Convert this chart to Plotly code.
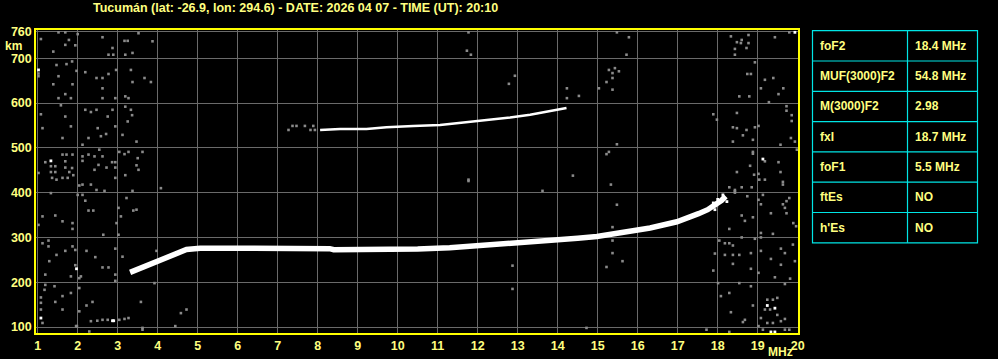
import plotly.graph_objects as go

# ---------------- data ----------------
title_text = "Tucumán (lat: -26.9, lon: 294.6) - DATE: 2026 04 07 - TIME (UT): 20:10"

# F-layer trace (ordinary), MHz / km
f_trace_mhz = [3.31, 3.56, 3.81, 4.06, 4.31, 4.56, 4.72, 5.06, 6.0, 7.0, 8.3, 8.4, 9.5, 10.06,
               10.5, 11.3, 12.0, 12.56, 13.2, 13.81, 14.5, 14.98, 15.64, 16.31, 16.98, 17.3,
               17.52, 17.75, 17.95, 18.1, 18.2]
f_trace_km = [222, 231, 242, 251, 261, 268, 273, 276, 276, 275.5, 275, 272.5, 272, 272,
              274, 277, 281, 284, 288, 293.5, 298, 302, 311, 321, 335, 344,
              353, 362, 372, 383, 392]

# second hop trace
hop2_mhz = [8.06, 8.56, 9.22, 9.72, 10.39, 11.06, 11.47, 12.06, 12.81, 13.31, 13.72, 14.06, 14.22]
hop2_km = [540, 542, 542, 546, 549, 551, 555, 560, 568, 574, 580, 586, 589]

# gray noise echoes
noise_mhz = [1.52, 1.69, 2.0, 1.08, 1.78, 1.39, 1.69, 1.94, 2.62, 2.87, 2.89, 2.77, 3.17, 3.25, 3.52, 3.87, 3.37, 3.19,
             1.02, 1.02, 1.47, 1.52, 1.72, 1.86, 1.97, 1.87, 1.39, 2.19, 2.47, 2.62, 2.77, 2.62, 2.96, 3.33, 3.37, 3.67, 3.83,
             1.52, 1.69, 1.83, 2.62, 2.94, 3.19, 3.27, 1.58, 1.08, 1.69, 1.12, 1.83, 1.62, 2.19, 2.33, 2.47, 2.75, 2.87, 2.94,
             2.58, 2.50, 2.71, 2.27, 3.12, 3.19, 3.33, 3.25, 3.36, 3.47, 2.12,
             1.02, 1.19, 1.33, 1.44, 1.33, 1.44, 1.36, 1.47, 1.62, 1.72, 1.69, 1.69, 1.79, 1.86, 1.87, 1.62, 1.75, 1.89, 2.12,
             2.12, 2.27, 2.42, 2.54, 2.52, 2.62, 2.42, 2.72, 2.86, 2.94, 2.94, 2.94, 2.04, 2.12, 2.33, 2.47, 2.67, 3.04, 3.17,
             3.27, 3.50, 3.62, 3.47, 3.52, 3.19, 3.37, 4.08,
             1.33, 2.12, 2.19, 2.27, 2.39, 2.0, 3.02, 3.08, 3.22, 3.39, 3.47, 1.12, 1.02, 1.44, 1.62, 1.87, 1.87, 2.97, 2.64, 3.02,
             1.12, 1.27, 1.27, 1.47, 1.29, 1.69, 1.87, 1.94, 1.94, 2.04, 2.08, 2.22, 2.44, 2.62, 2.77, 2.94, 2.94, 2.94, 3.12,
             1.19, 1.83, 1.19, 1.17, 1.42, 1.62, 1.83, 1.08, 1.08, 1.08, 1.44, 1.62, 2.04, 2.04, 2.22, 2.37, 1.12, 1.96, 1.98,
             2.33, 2.49, 2.62, 2.75, 3.04, 3.17, 3.27, 2.29, 3.62, 3.62, 3.58, 3.92, 4.58, 4.72, 4.44, 3.97,
             7.27, 7.37, 7.47, 7.68, 7.82, 7.89, 7.93,
             11.77, 11.73, 11.83, 12.93, 12.78, 14.23, 14.23, 14.53, 15.48, 15.78, 15.72, 15.28, 15.43, 15.37, 15.53, 15.37,
             15.22, 15.03, 15.37, 15.48, 15.28, 15.22, 11.77, 11.77, 14.38, 15.33, 13.62, 15.48, 15.37, 15.37, 15.37, 15.62,
             15.22, 12.87, 12.87, 14.72,
             19.79, 19.43, 18.33, 18.43, 18.48, 18.58, 18.43, 18.6, 18.77, 18.77, 18.72, 18.93, 18.74, 18.83, 19.18, 19.39,
             19.08, 19.64, 19.52, 19.28, 18.54, 18.79, 17.89, 17.98, 18.48,
             19.72, 19.72, 19.85, 19.85, 18.38, 18.48, 18.63, 18.72, 18.93, 19.02, 18.38, 18.88, 19.57, 19.83, 19.93, 19.98,
             18.88, 18.88, 18.81, 18.91, 19.02, 18.48, 19.52, 19.57, 19.63, 19.63, 19.04, 19.18, 18.29, 18.6, 18.85, 18.43,
             19.13, 19.02, 19.08, 18.74, 19.79, 19.72, 19.63, 19.68, 19.89, 19.96, 19.33, 19.72, 18.6, 18.68, 18.88, 18.29,
             18.6, 19.08, 19.38, 19.08, 18.04, 18.18, 18.29, 18.38, 18.93, 19.08, 19.33, 19.58, 19.68, 19.88, 19.93, 17.93,
             18.18, 18.38, 18.54, 18.38, 18.83, 18.83, 17.89, 19.02, 19.43, 19.58, 19.81, 18.01, 18.54, 18.83, 19.68, 18.29,
             18.08, 18.88, 19.24, 19.38, 19.49, 19.18, 19.31, 19.49, 19.08, 19.24, 19.38, 19.58, 19.68, 18.33, 18.63, 18.68,
             19.02, 19.13, 19.68, 19.79, 17.72, 18.29, 19.18,
             18.43, 18.43, 18.13, 17.98, 18.05]
noise_km = [758, 758, 754, 743, 741, 715, 730, 729, 747, 723, 708, 708, 739, 739, 756, 738, 712, 708,
            660, 666, 685, 660, 687, 693, 672, 642, 642, 669, 656, 656, 665, 633, 674, 674, 647, 656, 647,
            611, 620, 611, 611, 611, 615, 611, 595, 575, 570, 544, 548, 522, 585, 580, 585, 570, 585, 548,
            526, 544, 531, 522, 529, 592, 585, 559, 573, 514, 507,
            444, 468, 459, 459, 446, 446, 433, 429, 485, 485, 470, 456, 446, 455, 485, 433, 433, 439, 481,
            471, 485, 481, 496, 462, 481, 451, 456, 468, 468, 456, 433, 416, 418, 418, 406, 404, 491, 486,
            491, 477, 491, 461, 451, 439, 404, 410,
            399, 395, 382, 360, 360, 395, 366, 347, 388, 360, 362, 347, 328, 349, 336, 332, 319, 332, 306, 306,
            287, 293, 280, 261, 247, 270, 280, 272, 238, 209, 213, 270, 256, 233, 233, 275, 217, 203, 257,
            217, 213, 194, 183, 191, 169, 176, 166, 154, 139, 156, 139, 187, 135, 148, 156, 109, 102, 102,
            113, 114, 116, 116, 116, 118, 120, 90, 94, 98, 156, 198, 131, 139, 102, 270,
            540, 549, 549, 549, 540, 549, 540,
            758, 717, 708, 661, 643, 633, 611, 616, 758, 747, 708, 674, 678, 667, 671, 656,
            647, 633, 630, 508, 491, 486, 429, 426, 438, 418, 404, 373, 323, 293, 265, 247,
            234, 237, 185, 98,
            758, 747, 749, 721, 736, 734, 708, 741, 752, 734, 723, 691, 665, 665, 652, 656,
            633, 633, 620, 602, 615, 615, 575, 563, 578,
            593, 583, 573, 560, 546, 544, 528, 540, 546, 549, 514, 518, 507, 522, 514, 496,
            491, 487, 460, 440, 442, 446, 468, 446, 424, 418, 429, 429, 412, 412, 412, 403,
            395, 384, 374, 392, 388, 381, 374, 366, 332, 325, 354, 354, 349, 337, 345, 319,
            300, 310, 308, 300, 293, 287, 287, 282, 297, 270, 252, 275, 265, 284, 247, 264,
            261, 261, 261, 241, 265, 230, 226, 221, 211, 239, 208, 198, 198, 191, 196, 176,
            169, 148, 161, 161, 165, 139, 139, 127, 120, 109, 109, 113, 118, 133, 111, 116,
            102, 94, 94, 94, 94, 89, 470,
            406, 400, 385, 370, 378]

# bright (white) isolated echoes
bright_mhz = [1.02, 1.33, 1.97, 1.08, 2.87, 2.90, 19.93, 19.13, 19.24, 19.43, 19.33, 19.43,
              18.13, 18.23, 17.89, 17.93, 18.0]
bright_km = [674, 471, 230, 120, 114, 114, 758, 475, 148, 142, 89, 89,
             395, 380, 377, 362, 385]

# parameter table
param_names = ["foF2", "MUF(3000)F2", "M(3000)F2", "fxI", "foF1", "ftEs", "h'Es"]
param_values = ["18.4 MHz", "54.8 MHz", "2.98", "18.7 MHz", "5.5 MHz", "NO", "NO"]

x_ticks = list(range(1, 21))
y_ticks = [100, 200, 300, 400, 500, 600, 700, 760]

# ---------------- figure ----------------
W, H = 998, 359
L, R, T, B = 36, 798, 30, 333
TXT = "#FFFF80"
FONT = "Liberation Sans, Arial, sans-serif"


def px(xp):
    return (xp - L) / (R - L)


def py(yp):
    return (B - yp) / (B - T)


fig = go.Figure()

fig.add_trace(go.Scatter(x=noise_mhz, y=noise_km, mode="markers",
                         marker=dict(symbol="square", size=2.6, color="#8a8a8a", line=dict(width=0)),
                         hoverinfo="skip", showlegend=False))
fig.add_trace(go.Scatter(x=bright_mhz, y=bright_km, mode="markers",
                         marker=dict(symbol="square", size=2.8, color="#FFFFFF", line=dict(width=0)),
                         hoverinfo="skip", showlegend=False))
fig.add_trace(go.Scatter(x=hop2_mhz, y=hop2_km, mode="lines",
                         line=dict(color="#FFFFFF", width=2.5),
                         hoverinfo="skip", showlegend=False))
fig.add_trace(go.Scatter(x=f_trace_mhz, y=f_trace_km, mode="lines",
                         line=dict(color="#FFFFFF", width=5.5),
                         hoverinfo="skip", showlegend=False))

fig.update_layout(
    width=W, height=H,
    margin=dict(l=L, r=W - R, t=T, b=H - B, pad=0, autoexpand=False),
    paper_bgcolor="#000000", plot_bgcolor="#000000",
    font=dict(family=FONT, size=12, color=TXT),
    showlegend=False,
)
fig.update_xaxes(range=[0.9575, 20.0075], tickvals=x_ticks, ticktext=[str(v) for v in x_ticks],
                 showgrid=True, gridcolor="#6a6a6a", gridwidth=1, zeroline=False,
                 showline=True, linecolor="#FFFF00", linewidth=1.5, mirror=True,
                 ticks="", ticklen=0, automargin=False,
                 tickfont=dict(family=FONT, size=12.5, color=TXT, weight="bold"))
fig.update_yaxes(range=[86.6, 763.2], tickvals=y_ticks, ticktext=[str(v) for v in y_ticks],
                 showgrid=True, gridcolor="#6a6a6a", gridwidth=1, zeroline=False,
                 showline=True, linecolor="#FFFF00", linewidth=1.5, mirror=True,
                 ticks="", ticklen=0, automargin=False,
                 tickfont=dict(family=FONT, size=12.5, color=TXT, weight="bold"))

annotations = [
    dict(text=title_text, x=px(295.5), y=py(8), xref="paper", yref="paper",
         xanchor="center", yanchor="middle", showarrow=False,
         font=dict(family=FONT, size=12.5, color=TXT, weight="bold")),
    dict(text="km", x=px(13.5), y=py(45.5), xref="paper", yref="paper",
         xanchor="center", yanchor="middle", showarrow=False,
         font=dict(family=FONT, size=12, color=TXT, weight="bold")),
    dict(text="MHz", x=px(780.5), y=py(352), xref="paper", yref="paper",
         xanchor="center", yanchor="middle", showarrow=False,
         font=dict(family=FONT, size=12, color=TXT, weight="bold")),
]

shapes = []
tx0, tx1, tx2 = 812.5, 907.5, 977.5
ty0, rowh = 30.7, 30.3
nrows = len(param_names)
CY = "#00E5E5"
shapes.append(dict(type="rect", xref="paper", yref="paper",
                   x0=px(tx0), x1=px(tx2), y0=py(ty0), y1=py(ty0 + nrows * rowh),
                   line=dict(color=CY, width=1.2), fillcolor="rgba(0,0,0,0)"))
shapes.append(dict(type="line", xref="paper", yref="paper",
                   x0=px(tx1), x1=px(tx1), y0=py(ty0), y1=py(ty0 + nrows * rowh),
                   line=dict(color=CY, width=1.2)))
for i in range(1, nrows):
    yy = ty0 + i * rowh
    shapes.append(dict(type="line", xref="paper", yref="paper",
                       x0=px(tx0), x1=px(tx2), y0=py(yy), y1=py(yy),
                       line=dict(color=CY, width=1.2)))
for i, (nm, val) in enumerate(zip(param_names, param_values)):
    yc = ty0 + (i + 0.5) * rowh
    annotations.append(dict(text=nm, x=px(817.5), y=py(yc), xref="paper", yref="paper",
                            xanchor="left", yanchor="middle", showarrow=False,
                            font=dict(family=FONT, size=12, color=TXT, weight="bold")))
    annotations.append(dict(text=val, x=px(912.5), y=py(yc), xref="paper", yref="paper",
                            xanchor="left", yanchor="middle", showarrow=False,
                            font=dict(family=FONT, size=12, color=TXT, weight="bold")))

fig.update_layout(annotations=annotations, shapes=shapes)

fig.write_html("out.html",
               post_script="document.body.style.margin='0';document.body.style.overflow='hidden';")
